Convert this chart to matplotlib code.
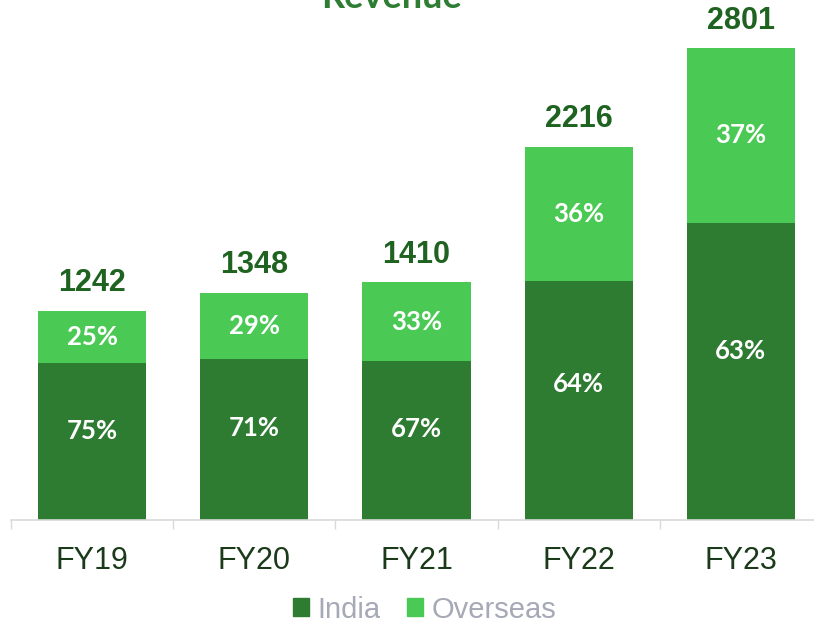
import matplotlib.pyplot as plt
import numpy as np
from matplotlib.patches import Patch

years = ["FY19", "FY20", "FY21", "FY22", "FY23"]
totals = [1242, 1348, 1410, 2216, 2801]
india_pct = [75, 71, 67, 64, 63]
overseas_pct = [25, 29, 33, 36, 37]

dark = "#2e7b32"
light = "#4bc955"
label_green = "#1f6321"

india = np.array(totals) * np.array(india_pct) / 100
overseas = np.array(totals) - india

fig = plt.figure(figsize=(8.14, 6.22), dpi=100)
ax = fig.add_axes([11 / 814, 102 / 622, 811 / 814, 520 / 622])

x = np.arange(len(years))
ax.bar(x, india, width=0.667, color=dark)
ax.bar(x, overseas, width=0.667, bottom=india, color=light)

for i in range(len(years)):
    # india labels sit a little above the middle of their segment
    ax.text(x[i], india[i] * 0.57, f"{india_pct[i]}%", ha="center", va="center",
            color="white", fontsize=18.5, fontweight="bold", family="Lato")
    ax.text(x[i], india[i] + overseas[i] / 2, f"{overseas_pct[i]}%", ha="center",
            va="center", color="white", fontsize=18.5, fontweight="bold", family="Lato")
    ax.annotate(str(totals[i]), (x[i], totals[i]), xytext=(0, 14),
                textcoords="offset points", ha="center", va="baseline",
                color=label_green, fontsize=22, fontweight="bold",
                family="Liberation Sans")

ax.set_xlim(-0.5, len(years) - 0.5)
ax.set_ylim(0, 520 / 0.1685)
ax.set_xticks(np.arange(len(years) + 1) - 0.5, minor=False)
ax.set_xticklabels([])
ax.set_xticks(x, minor=True)
ax.set_xticklabels(years, minor=True, fontsize=22, family="Liberation Sans",
                   color="#1a3a1a")
ax.tick_params(axis="x", which="major", length=6.5, color="#d9d9d9", width=1)
ax.tick_params(axis="x", which="minor", length=0, pad=19)
ax.set_yticks([])
for s in ["top", "right", "left"]:
    ax.spines[s].set_visible(False)
ax.spines["bottom"].set_color("#d9d9d9")
ax.spines["bottom"].set_linewidth(1.2)

fig.text(392 / 814, 1 - 8 / 622, "Revenue", ha="center", va="baseline",
         color="#2e7d32", fontsize=26, fontweight="bold", family="Lato")

handles = [Patch(color=dark, label="India"), Patch(color=light, label="Overseas")]
fig.legend(handles=handles, loc="center", bbox_to_anchor=(424.5 / 814, 0.02),
           ncol=2, frameon=False, handlelength=0.55, handleheight=0.55,
           handletextpad=0.3, columnspacing=0.9, borderpad=0,
           prop={"family": "Liberation Sans", "size": 21}, labelcolor="#a6a9b6")

fig.savefig("out.png", dpi=100)
